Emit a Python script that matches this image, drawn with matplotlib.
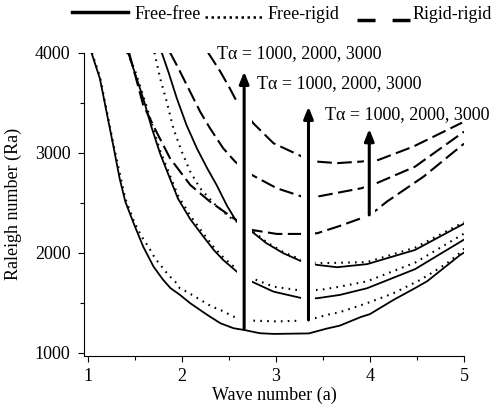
import matplotlib
matplotlib.use('Agg')
import matplotlib.pyplot as plt
from matplotlib.lines import Line2D
from matplotlib.ticker import MultipleLocator

plt.rcParams['font.family'] = ['Liberation Serif', 'DejaVu Serif']

# values: wave number a -> Rayleigh number Ra
# free-free (solid), Ta = 1000, 2000, 3000
ff1_a = [1.04, 1.13, 1.20, 1.27, 1.34, 1.40, 1.49, 1.59, 1.70, 1.80, 1.88, 1.98, 2.09, 2.27, 2.41,
         2.55, 2.66, 2.83, 2.98, 3.19, 3.35, 3.54, 3.68, 3.90, 4.00, 4.25, 4.48, 4.61, 4.96, 5.00]
ff1_ra = [4000, 3740, 3410, 3080, 2740, 2510, 2290, 2060, 1860, 1730, 1645, 1578, 1494, 1378, 1294,
          1244, 1227, 1194, 1187, 1190, 1192, 1240, 1270, 1355, 1385, 1527, 1645, 1715, 1977, 2000]
ff2_a = [1.43, 1.50, 1.56, 1.61, 1.68, 1.77, 1.875, 1.96, 2.09, 2.23, 2.34, 2.44, 2.585, 2.745,
         2.975, 3.28, 3.44, 3.68, 3.97, 4.48, 5.00]
ff2_ra = [4000, 3800, 3630, 3480, 3250, 2990, 2740, 2540, 2335, 2160, 2027, 1927, 1810, 1710,
          1610, 1544, 1544, 1577, 1644, 1835, 2130]
ff3_a = [1.787, 1.857, 1.947, 2.05, 2.16, 2.27, 2.37, 2.48, 2.57, 2.745, 2.90, 3.08, 3.28, 3.44,
         3.65, 3.97, 4.48, 5.00]
ff3_ra = [4000, 3810, 3544, 3277, 3044, 2844, 2677, 2470, 2330, 2210, 2094, 1994, 1910, 1877,
          1854, 1885, 2027, 2290]

# free-rigid (dotted)
fr1_a = [1.045, 1.13, 1.27, 1.40, 1.50, 1.574, 1.645, 1.716, 1.787, 1.857, 1.93, 1.98, 2.05, 2.14,
         2.23, 2.32, 2.41, 2.48, 2.55, 2.76, 3.00, 3.29, 3.44, 3.54, 3.68, 3.86, 4.00, 4.25, 4.39,
         4.535, 4.68, 4.82, 4.96, 5.00]
fr1_ra = [4000, 3760, 3100, 2540, 2293, 2160, 2060, 1943, 1860, 1777, 1710, 1643, 1610, 1560,
          1510, 1460, 1427, 1394, 1360, 1320, 1312, 1320, 1350, 1377, 1405, 1460, 1505, 1594, 1660,
          1727, 1810, 1894, 2000, 2040]
fr2_a = [1.42, 1.50, 1.61, 1.77, 1.96, 2.09, 2.23, 2.34, 2.44, 2.53, 2.745, 2.975, 3.22, 3.47,
         3.68, 3.97, 4.48, 5.00]
fr2_ra = [4000, 3830, 3510, 3020, 2570, 2370, 2190, 2055, 1955, 1877, 1744, 1660, 1627, 1627,
          1660, 1713, 1900, 2190]
fr3_a = [1.71, 1.77, 1.84, 1.91, 2.00, 2.09, 2.195, 2.34, 2.48, 2.55, 2.745, 2.90, 3.08, 3.28,
         3.44, 3.65, 3.97, 4.48, 5.00]
fr3_ra = [4000, 3744, 3510, 3244, 3010, 2810, 2644, 2494, 2377, 2327, 2225, 2105, 2005, 1925,
          1894, 1898, 1905, 2050, 2305]

# rigid-rigid (dashed)
rr1_a = [1.44, 1.50, 1.59, 1.73, 1.875, 2.09, 2.30, 2.55, 2.745, 3.01, 3.26, 3.44, 3.68, 3.97,
         4.07, 4.18, 4.57, 5.00]
rr1_ra = [4000, 3790, 3477, 3210, 2944, 2677, 2510, 2344, 2227, 2187, 2187, 2194, 2267, 2365,
          2427, 2510, 2760, 3090]
rr2_a = [1.876, 1.964, 2.07, 2.195, 2.30, 2.44, 2.567, 2.745, 3.01, 3.28, 3.44, 3.91, 4.07, 4.48, 5.00]
rr2_ra = [4000, 3844, 3644, 3410, 3244, 3044, 2910, 2777, 2644, 2560, 2560, 2644, 2694, 2860, 3210]
rr3_a = [2.28, 2.41, 2.51, 2.585, 2.76, 2.975, 3.28, 3.44, 3.65, 3.90, 4.09, 4.46, 4.98]
rr3_ra = [4000, 3810, 3644, 3510, 3294, 3094, 2960, 2910, 2895, 2910, 2927, 3060, 3300]

# arrows marking increasing Ta for each boundary condition
arrow_a = [2.663, 3.347, 3.993]
arrow_bottom = [1237, 1327, 2377]
arrow_top = [3810, 3460, 3237]
gap_from = [1270, 1280, 2300]
gap_width = [10.8, 10.0, 8.0]
label_a = [2.372, 2.80, 3.525]
label_ra = [3992, 3692, 3377]
label_text = 'T\u03b1 = 1000, 2000, 3000'

fig = plt.figure(figsize=(4.97, 4.04), dpi=100)
ax = fig.add_axes([0.170, 0.119, 0.7636, 0.7507])

solid = dict(color='k', lw=1.3, ls='-')
dotted = dict(color='k', lw=1.5, ls=(0, (0.8, 2.5)))
dashed = dict(color='k', lw=1.5, ls=(0, (7.0, 2.6)))

for a, ra in [(ff1_a, ff1_ra), (ff2_a, ff2_ra), (ff3_a, ff3_ra)]:
    ax.plot(a, ra, zorder=2, **solid)
for a, ra in [(fr1_a, fr1_ra), (fr2_a, fr2_ra), (fr3_a, fr3_ra)]:
    ax.plot(a, ra, zorder=2, **dotted)
for a, ra in [(rr1_a, rr1_ra), (rr2_a, rr2_ra), (rr3_a, rr3_ra)]:
    ax.plot(a, ra, zorder=2, **dashed)

for x, y0, y1, g0, w in zip(arrow_a, arrow_bottom, arrow_top, gap_from, gap_width):
    # white band so the curves break around the arrow
    ax.plot([x, x], [g0, y1], color='white', lw=w, solid_capstyle='butt', zorder=3)
    ax.annotate('', xy=(x, y1), xytext=(x, y0),
                arrowprops=dict(arrowstyle='-|>,head_length=0.35,head_width=0.14',
                                mutation_scale=20, lw=2.2, color='k',
                                shrinkA=0, shrinkB=0), zorder=4)

for x, y in zip(label_a, label_ra):
    ax.text(x, y, label_text, fontsize=13, ha='left', va='center', zorder=5)

ax.set_xlim(0.966, 5.0)
ax.set_ylim(967, 4000)
ax.spines['top'].set_visible(False)
ax.spines['right'].set_visible(False)
ax.spines['left'].set_linewidth(0.8)
ax.spines['bottom'].set_linewidth(0.8)
ax.xaxis.set_major_locator(MultipleLocator(1))
ax.xaxis.set_minor_locator(MultipleLocator(0.5))
ax.yaxis.set_major_locator(MultipleLocator(1000))
ax.yaxis.set_minor_locator(MultipleLocator(500))
ax.tick_params(which='major', direction='out', length=4, width=0.8, labelsize=13)
ax.tick_params(which='minor', direction='out', length=3, width=0.8)
ax.tick_params(axis='x', pad=5)
ax.tick_params(axis='y', pad=6)
ax.set_xlabel('Wave number (a)', fontsize=13, labelpad=1)
ax.set_ylabel('Raleigh number (Ra)', fontsize=13, labelpad=9)

# legend above the plot
def fx(px):
    return px / 497.0

def fy(py):
    return 1 - py / 404.0

fig.add_artist(Line2D([fx(72), fx(128)], [fy(12), fy(12)], color='k', lw=2.5))
fig.text(fx(135), fy(14.5), 'Free-free', fontsize=13, ha='left', va='center')
fig.add_artist(Line2D([fx(205), fx(265)], [fy(16.5), fy(16.5)], color='k', lw=1.8,
                      ls=(0, (1.0, 1.4))))
fig.text(fx(268), fy(14.5), 'Free-rigid', fontsize=13, ha='left', va='center')
fig.add_artist(Line2D([fx(357), fx(410)], [fy(19.5), fy(19.5)], color='k', lw=2.5,
                      ls=(0, (5.2, 4.9))))
fig.text(fx(413), fy(14.5), 'Rigid-rigid', fontsize=13, ha='left', va='center')

fig.savefig('out.png', dpi=100)
